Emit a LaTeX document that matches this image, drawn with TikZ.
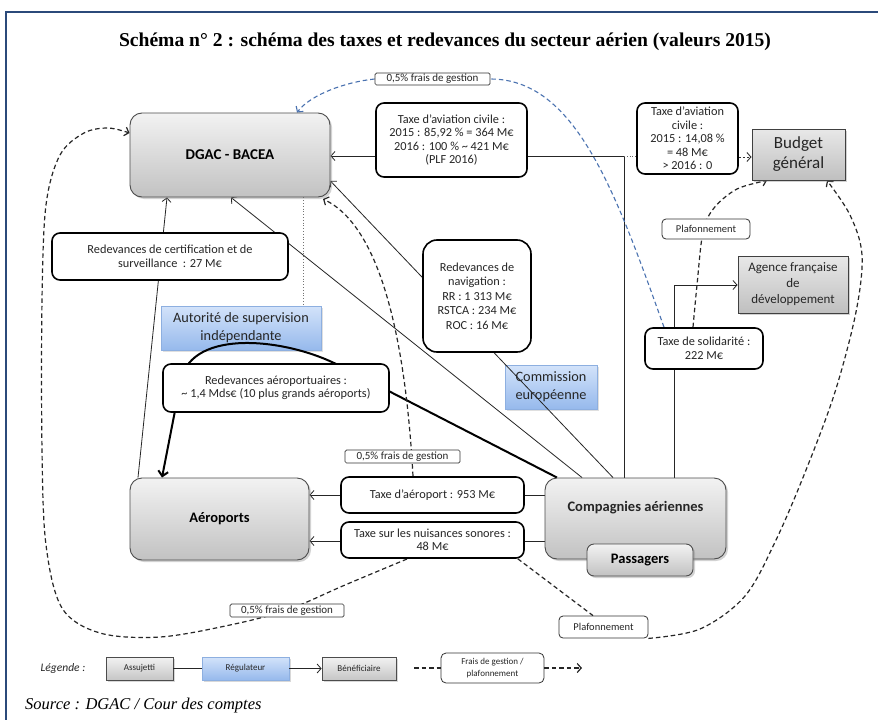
\documentclass[tikz,border=0pt]{standalone}
\usepackage{fontspec}
\setmainfont{Carlito}
\newfontfamily\serifT{Liberation Serif}
\usetikzlibrary{arrows.meta,shadows,calc}
\pgfdeclarelayer{backl}
\pgfdeclarelayer{bluel}
\pgfdeclarelayer{lines}
\pgfsetlayers{backl,bluel,lines,main}
\definecolor{framecol}{HTML}{2B4A7A}
\definecolor{bluetop}{HTML}{D3E3FA}
\definecolor{bluebot}{HTML}{96B9EC}
\definecolor{blueedge}{HTML}{8DAFE0}
\definecolor{bluedash}{HTML}{4A72B0}
\definecolor{txt}{HTML}{262626}
\begin{document}
\begin{tikzpicture}[x=1pt,y=-1pt,
  graybox/.style={draw=black!70, line width=0.9pt, rounded corners=12pt, top color=gray!10, bottom color=gray!48,
     drop shadow={opacity=0.35,shadow xshift=2pt,shadow yshift=-2pt}, align=center, inner sep=0pt},
  sqbox/.style={draw=black!75, line width=1pt, top color=gray!18, bottom color=gray!50,
     drop shadow={opacity=0.35,shadow xshift=2pt,shadow yshift=-2pt}, align=center, inner sep=0pt, text=txt},
  txtbox/.style={draw=black, line width=1.6pt, fill=white, rounded corners=8pt, align=center, inner sep=0pt,
     font=\fontsize{12.3}{13.5}\selectfont, text=txt},
  lbl/.style={draw=black!80, line width=0.7pt, fill=white, rounded corners=1.5pt, inner sep=0pt,
     font=\fontsize{11}{11}\selectfont, text=txt},
  plafbox/.style={draw=black!80, line width=0.8pt, fill=white, rounded corners=4pt, inner sep=0pt,
     font=\fontsize{10.5}{11}\selectfont, text=txt},
  bluebox/.style={draw=blueedge, line width=0.8pt, top color=bluetop, bottom color=bluebot,
     drop shadow={opacity=0.25,shadow xshift=1.5pt,shadow yshift=-1.5pt}, align=center, inner sep=0pt,
     font=\fontsize{14.3}{18}\selectfont, text=txt},
  legbox/.style={draw=black!70, line width=0.8pt, top color=gray!10, bottom color=gray!45,
     drop shadow={opacity=0.3,shadow xshift=1.5pt,shadow yshift=-1.5pt}, inner sep=0pt,
     font=\fontsize{9}{10}\selectfont, text=txt},
  plain/.style={inner sep=0pt, align=center},
  ln/.style={line width=0.8pt, black!85},
  arr/.style={ln, -{Straight Barb[length=4pt,width=9pt]}},
  dsh/.style={line width=1.2pt, black!85, dash pattern=on 4.5pt off 3pt},
  dsharr/.style={dsh, -{Straight Barb[length=4pt,width=9pt]}},
  bdsh/.style={line width=1.1pt, bluedash, dash pattern=on 4.5pt off 3pt},
]
\useasboundingbox (0,0) rectangle (878,720);
\begin{pgfonlayer}{backl}
\fill[white] (0,0) rectangle (878,720);
\end{pgfonlayer}
\draw[framecol, line width=1.2pt] (6,722) -- (6,12) -- (880,12);

% title
\node[plain, font=\serifT\bfseries\fontsize{19.6}{22}\selectfont] (title) at (445,42)
  {Schéma n° 2 : schéma des taxes et redevances du secteur aérien (valeurs 2015)};

% ---------- blue boxes (bottom layer)
\begin{pgfonlayer}{bluel}
\node[bluebox, minimum width=160pt, minimum height=44pt] (asi) at (241,328) {Autorité de supervision\\indépendante};
\node[bluebox, minimum width=92pt, minimum height=44pt] (ce) at (551,387) {Commission\\européenne};
\end{pgfonlayer}

% ---------- main nodes
\node[graybox, minimum width=200pt, minimum height=84pt, font=\bfseries\fontsize{15}{18}\selectfont] (dgac) at (230,155) {DGAC - BACEA};
\node[txtbox, minimum width=151pt, minimum height=74pt] (tac1) at (451.5,140)
  {Taxe d’aviation civile :\\2015 : 85,92 \% = 364 M€\\2016 : 100 \% \textasciitilde{} 421 M€\\(PLF 2016)};
\node[lbl, minimum width=115pt, minimum height=12pt] (fg1) at (432.5,79) {0,5\% frais de gestion};
\node[txtbox, minimum width=101pt, minimum height=71pt, font=\fontsize{12.3}{13.5}\selectfont] (tac2) at (687.5,138.5)
  {Taxe d’aviation\\civile :\\2015 : 14,08 \%\\= 48 M€\\> 2016 : 0};
\node[sqbox, minimum width=93pt, minimum height=51pt, font=\fontsize{17}{20}\selectfont] (budget) at (798.5,154.5) {Budget\\général};
\node[plafbox, minimum width=88pt, minimum height=20pt] (plaf1) at (706,229) {Plafonnement};
\node[sqbox, minimum width=110pt, minimum height=57pt, font=\fontsize{13}{16}\selectfont] (afd) at (793,284.5) {Agence française\\de\\développement};
\node[txtbox, minimum width=118pt, minimum height=41pt] (solid) at (704,348.5) {Taxe de solidarité :\\222 M€};
\node[txtbox, rounded corners=14pt, minimum width=108pt, minimum height=112pt, font=\fontsize{12.3}{14.5}\selectfont] (nav) at (477,296)
  {Redevances de\\navigation :\\RR : 1 313 M€\\RSTCA : 234 M€\\ROC : 16 M€};
\node[txtbox, minimum width=236pt, minimum height=47pt] (cert) at (170,256.5)
  {Redevances de certification et de\\surveillance~ : 27 M€};
\node[txtbox, minimum width=226pt, minimum height=48pt] (raero) at (276,388)
  {Redevances aéroportuaires :\\\textasciitilde{} 1,4 Mds€ (10 plus grands aéroports)};
\node[graybox, minimum width=179pt, minimum height=82pt, font=\bfseries\fontsize{14.5}{17}\selectfont] (aero) at (219.5,519) {Aéroports};
\node[lbl, minimum width=115pt, minimum height=13pt] (fg2) at (402.5,456.5) {0,5\% frais de gestion};
\node[txtbox, minimum width=183pt, minimum height=36pt] (taero) at (432.5,495) {Taxe d’aéroport : 953 M€};
\node[txtbox, minimum width=183pt, minimum height=36pt] (tnuis) at (432.5,540) {Taxe sur les nuisances sonores :\\48 M€};
\node[lbl, minimum width=114pt, minimum height=13pt] (fg3) at (287,610.5) {0,5\% frais de gestion};
\node[graybox, minimum width=181pt, minimum height=81pt] (comp) at (635.5,518.5) {};
\node[plain, font=\bfseries\fontsize{14.5}{17}\selectfont, text=txt] (comptxt) at (635.5,508) {Compagnies aériennes};
\node[graybox, rounded corners=7pt, minimum width=106pt, minimum height=32pt, font=\bfseries\fontsize{14.5}{17}\selectfont] (pass) at (640,560) {Passagers};
\node[plafbox, minimum width=89pt, minimum height=22pt] (plaf2) at (603.5,627) {Plafonnement};

% ---------- connectors
\begin{pgfonlayer}{lines}
% taxe d'aviation civile
\draw[arr] (comp.north -| 624,0) -- (624,156) -- (dgac.east |- 0,156);
\draw[line width=0.8pt, black!60, dotted] (624,156) -- (tac2.west |- 0,156);
\draw[line width=0.9pt, black!80, dash pattern=on 2.5pt off 1.5pt, -{Straight Barb[length=4pt,width=9pt]}] (tac2.east |- 0,157) -- (budget.west |- 0,157);
% certification (airlines, airports)
\draw[arr] (comp.north -| 582,0) -- (dgac.south -| 231,0);
\draw[arr] (aero.north -| 138,0) -- (dgac.south -| 167,0);
% navigation
\draw[arr] (comp.north -| 613,0) -- (dgac.east |- 0,181);
% solidarite
\draw[arr] (comp.north -| 674,0) -- (674,285) -- (afd.west |- 0,285);
% taxes aeroport
\draw[arr] (comp.west |- 0,495) -- (aero.east |- 0,495);
\draw[arr] (comp.west |- 0,541) -- (aero.east |- 0,541);
% redevances aeroportuaires (thick)
\draw[line width=2pt, black, -{Straight Barb[length=5pt,width=10pt]}]
  (comp.north -| 557,0) -- (340,366) .. controls (287,338) and (192,328) .. (181,380) -- (aero.north -| 162,0);
% supervision (dotted)
\draw[line width=0.8pt, black!55, dotted] (dgac.south -| 303,0) -- (asi.north -| 303,0);
% frais de gestion taxe d'aeroport
\draw[dsharr] (taero.north -| 413,0) .. controls (405,330) and (378,225) .. (323,199);
% blue dashed frais de gestion
\draw[bdsh] (solid.north -| 664,0) .. controls (615,190) and (575,79) .. (fg1.east);
\draw[bdsh, -{Straight Barb[length=4pt,width=9pt]}] (fg1.west) .. controls (345,82) and (310,95) .. (dgac.north -| 297,0);
% left dashed loop
\draw[dsharr] plot[smooth, tension=0.55] coordinates {(407,559) (345,585) (287,610) (230,625) (160,637) (100,633) (62,608) (46,545) (42,450) (42,300) (46,205) (60,155) (84,133) (108,128) (dgac.west |- 0,133)};
% plafonnement bas
\draw[dsh] (tnuis.south east) ++(-7,0) -- (plaf2.north -| 593,0);
\draw[dsharr] plot[smooth, tension=0.55] coordinates {(plaf2.south east) (700,629) (745,596) (776,540) (806,470) (835,392) (856,312) (862,255) (850,215) (budget.south -| 827,0)};
% plafonnement solidarite
\draw[dsharr] plot[smooth, tension=0.55] coordinates {(solid.north -| 693,0) (697,285) (703,232) (714,208) (737,189) (budget.south -| 767,0)};
\end{pgfonlayer}

% ---------- legend
\node[plain, font=\itshape\fontsize{11.5}{13}\selectfont, text=txt] (legt) at (63,668) {Légende :};
\node[legbox, minimum width=67pt, minimum height=23pt] (leg1) at (139.5,668.5) {Assujetti};
\node[legbox, draw=blueedge, top color=bluetop, bottom color=bluebot, minimum width=87pt, minimum height=23pt] (leg2) at (245.5,668.5) {Régulateur};
\node[legbox, minimum width=74pt, minimum height=23pt] (leg3) at (359,668.5) {Bénéficiaire};
\node[plafbox, rounded corners=5pt, align=center, font=\fontsize{9}{12}\selectfont, minimum width=103pt, minimum height=30pt] (leg4) at (492.5,668) {Frais de gestion /\\plafonnement};
\coordinate (legs) at (414,668);
\coordinate (lege) at (582,668);
\draw[ln] (leg1) -- (leg2);
\draw[arr] (leg2) -- (leg3);
\draw[dsh] (legs) -- (leg4.west);
\draw[dsharr] (leg4.east) -- (lege);
\node[plain, anchor=west, font=\serifT\itshape\fontsize{16.5}{18}\selectfont] (source) at (25,706) {Source : DGAC / Cour des comptes};
\end{tikzpicture}
\end{document}
